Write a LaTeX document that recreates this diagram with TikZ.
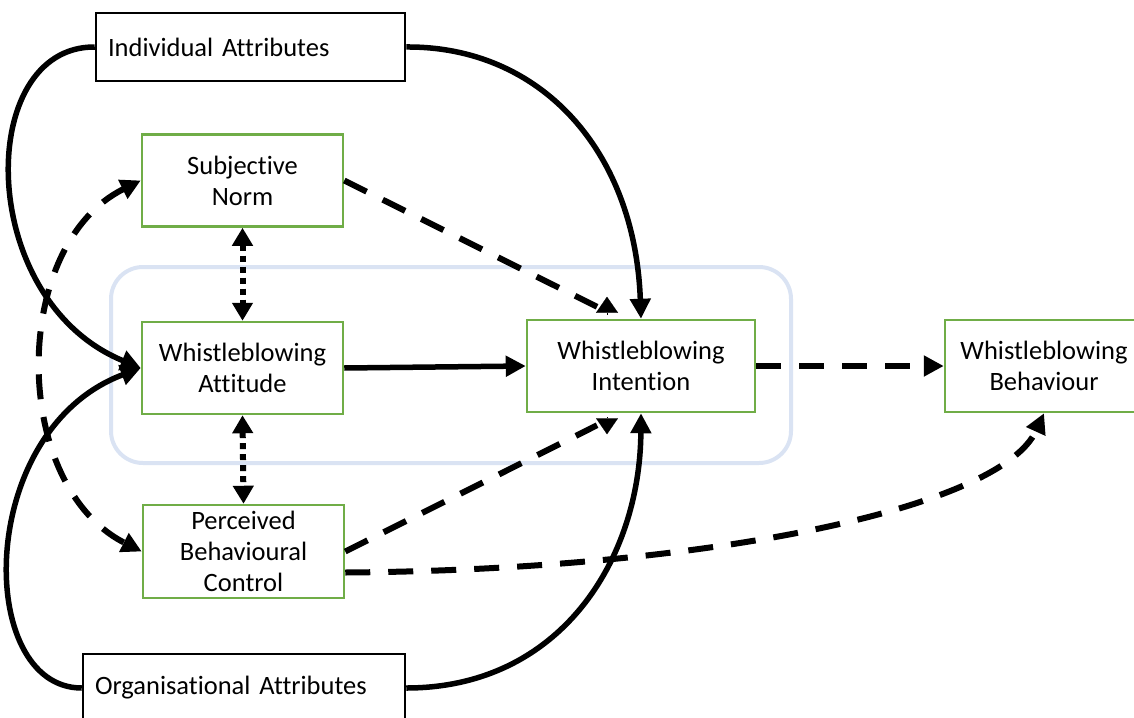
\documentclass[tikz,border=0pt]{standalone}
\usepackage{fontspec}
\setmainfont{Carlito}[Ligatures=NoCommon]
\usetikzlibrary{arrows.meta}
\definecolor{tpbgreen}{RGB}{112,173,71}
\definecolor{grpblue}{RGB}{218,227,243}

\begin{document}
\begin{tikzpicture}[
    x=1pt, y=-1pt,
    box/.style={
        draw,
        line width=2.5pt,
        inner sep=1pt,
        align=center,
        font=\fontsize{26.5}{31}\selectfont
    },
    attrbox/.style={box, draw=black, inner xsep=12pt, minimum height=68pt, align=left},
    tpbbox/.style={box, draw=tpbgreen, minimum width=201pt, minimum height=92pt},
    grpbox/.style={draw=grpblue, line width=4pt, rounded corners=32pt,
        minimum width=680pt, minimum height=196pt},
    headtip/.style={-{Triangle[length=20pt,width=20pt]}},
    solidarrow/.style={headtip, line width=5.5pt},
    dashline/.style={line width=6pt, dash pattern=on 25pt off 18pt},
    dasharrow/.style={headtip, dashline},
    dashboth/.style={{Triangle[length=20pt,width=20pt]}-{Triangle[length=20pt,width=20pt]}, dashline},
    dotarrow/.style={{Triangle[length=18pt,width=20pt]}-{Triangle[length=18pt,width=20pt]},
        line width=6pt, dash pattern=on 6pt off 5pt},
    oddtip/.style={-{Triangle[length=16pt,width=22pt]}, line width=0.1pt}
]
\useasboundingbox (0,0) rectangle (1134,717);

% Frame round the core constructs
\node[grpbox] (grp) at (451,365) {};

% Attribute boxes
\node[attrbox, text width=285pt] (ia) at (250.5,47) {Individual Attributes};
\node[attrbox, text width=298pt] (org) at (244,688) {Organisational Attributes};

% Left column: Subjective Norm, Attitude, PBC
\node[tpbbox] (sn) at (242.5,180.5) {Subjective\\Norm};
\node[tpbbox] (att) at (242.5,368) {Whistleblowing\\Attitude};
\node[tpbbox, minimum height=93pt] (pbc) at (243.5,551.5) {Perceived\\Behavioural\\Control};

% Intention and Behaviour
\node[tpbbox, minimum width=228pt] (int) at (641,366) {Whistleblowing\\Intention};
\node[tpbbox, minimum width=198pt] (beh) at (1044,366) {Whistleblowing\\Behaviour};

% === ARROWS ===

% Attributes -> Attitude
\draw[solidarrow] (ia.west) .. controls (-25,46) and (-25,300) .. (att.west);
\draw[solidarrow] (org.west) .. controls (-25,688) and (-25,430) .. (att.west);

% Attributes -> Intention
\draw[solidarrow] (ia.east) .. controls (540,46) and (635,150) .. (int.north);
\draw[solidarrow] (org.east) .. controls (560,688) and (640,560) .. (int.south);

% Subjective Norm <-> PBC
\draw[dashboth] (sn.west) .. controls (10,245) and (10,485) .. (pbc.west);

% Dotted links in the left column
\draw[dotarrow] (sn.south) -- (att.north);
\draw[dotarrow] (att.south) -- (pbc.north);

% Subjective Norm and PBC -> Intention
\draw[dashline] (sn.east) -- ([xshift=-44pt,yshift=12pt]int.north);
\draw[oddtip] ([xshift=-34pt,yshift=4pt]int.north) -- ([xshift=-34pt,yshift=22pt]int.north);
\draw[dashline] (pbc.east) -- ([xshift=-44pt,yshift=-12pt]int.south);
\draw[oddtip] ([xshift=-34pt,yshift=-4pt]int.south) -- ([xshift=-34pt,yshift=-21pt]int.south);

% Attitude -> Intention -> Behaviour
\draw[solidarrow] (att.east) -- (int.west);
\draw[dasharrow] (int.east) -- (beh.west);

% PBC -> Behaviour
\draw[dasharrow] ([yshift=-21pt]pbc.east) .. controls (700,570) and (1000,510) .. (beh.south);

\end{tikzpicture}
\end{document}
